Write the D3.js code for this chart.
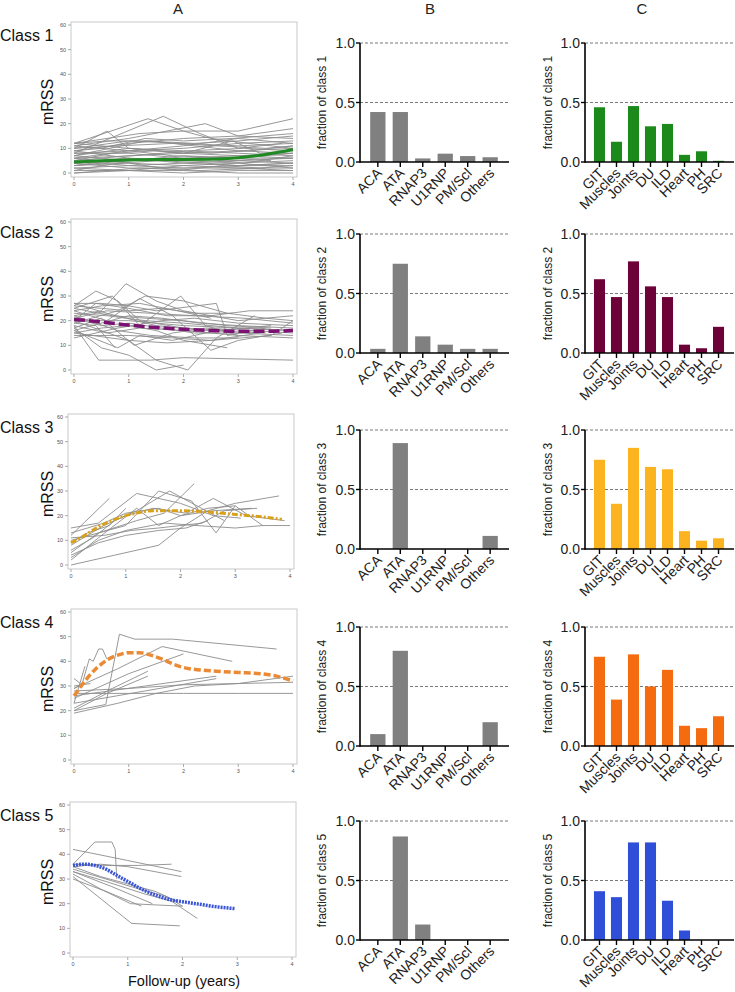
<!DOCTYPE html>
<html><head><meta charset="utf-8">
<script src="https://cdn.jsdelivr.net/npm/d3@7"></script>
<style>body{margin:0;background:#fff}svg{display:block;font-family:"Liberation Sans",Arial,sans-serif}</style>
</head><body><svg id="c" width="735" height="992"></svg>
<script>
// ---------------- DATA ----------------
const classNames = ["Class 1","Class 2","Class 3","Class 4","Class 5"];
const autoCats = ["ACA","ATA","RNAP3","U1RNP","PM/Scl","Others"];
const organCats = ["GIT","Muscles","Joints","DU","ILD","Heart","PH","SRC"];
const yearTicks = [0,1,2,3,4];
const mrssTicks = [0,10,20,30,40,50,60];
const fracTicks = [0,0.5,1];

const auto1 = [0.42,0.42,0.03,0.07,0.05,0.04];
const auto2 = [0.035,0.75,0.14,0.07,0.035,0.035];
const auto3 = [0,0.89,0,0,0,0.11];
const auto4 = [0.10,0.80,0,0,0,0.20];
const auto5 = [0,0.87,0.13,0,0,0];

const organ1 = [0.46,0.17,0.47,0.30,0.32,0.06,0.09,0.01];
const organ2 = [0.62,0.47,0.77,0.56,0.47,0.07,0.04,0.22];
const organ3 = [0.75,0.38,0.85,0.69,0.67,0.15,0.07,0.09];
const organ4 = [0.75,0.39,0.77,0.50,0.64,0.17,0.15,0.25];
const organ5 = [0.41,0.36,0.82,0.82,0.33,0.08,0,0];

const trend1 = [[0,4.5],[0.5,5],[1,5.3],[1.5,5.5],[2,5.5],[2.5,5.6],[3,6.2],[3.5,7.5],[4,9.5]];
const trend2 = [[0,20.5],[0.5,19.5],[1,18.2],[1.5,17.2],[2,16.5],[2.5,16],[3,15.7],[3.5,15.7],[4,16]];
const trend3 = [[0,9],[0.25,12],[0.5,15.5],[0.75,18],[1,20],[1.25,21.3],[1.5,22],[2,22],[2.5,21.5],[3,20.5],[3.5,19.5],[3.85,18.5]];
const trend4 = [[0,26],[0.1,29],[0.2,32],[0.4,37],[0.6,40.5],[0.8,42.5],[1,43.5],[1.2,43.5],[1.4,42.5],[1.6,41],[1.8,39],[2,37.5],[2.3,36.5],[2.6,36],[3,35.5],[3.4,35],[3.7,34],[4,32]];
const trend5 = [[0,35.5],[0.2,36],[0.4,35.5],[0.6,34],[0.8,31.5],[1,29],[1.2,26.5],[1.5,23.5],[1.8,21.5],[2,20.8],[2.3,19.8],[2.6,18.8],[2.95,18]];

const traj1 = [
[[0,12],[1.35,22],[2,17],[2.5,14],[3.2,12],[4,10]],
[[0,10],[0.6,17],[1,10],[2,8],[3,7],[4,6]],
[[0,8],[1.63,23],[2.3,16],[3,10],[3.8,12]],
[[0,11],[1,14],[2.4,20],[3,15],[4,14]],
[[0,12],[1.2,16],[2,17],[3,17],[4,22]],
[[0,9],[1,12],[2,14],[3,15],[4,18]],
[[0,7],[1.3,13],[2.2,12],[3,13],[4,15]],
[[0,10],[0.8,11],[1.8,12],[2.6,11],[3.5,10],[4,11]],
[[0,6],[1,9],[2,10],[3,12],[4,13]],
[[0,5],[1,7],[2,8],[2.9,13],[3.4,8],[4,9]],
[[0,12],[1,10],[2,9],[3,8],[4,7]],
[[0,3],[1,5],[2,7],[3,6],[4,8]],
[[0,4],[0.9,6],[2,5],[3,4],[4,5]],
[[0,2],[1,3],[2,2],[3,3],[4,3]],
[[0,1],[1,1],[2,0],[3,1],[4,1]],
[[0,0],[1.2,2],[2.3,1],[3.5,2]],
[[0,6],[1,4],[2,3],[3,2],[4,2]],
[[0,9],[1,6],[2,4],[3,3],[4,4]],
[[0,8],[1,8],[2,6],[3,5],[4,6]],
[[0,11],[1,9],[1.8,7],[2.8,6],[3.6,5]],
[[0,5],[0.7,8],[1.5,9],[2.5,8],[3.2,9],[4,11]],
[[0,3],[1,4],[1.9,1],[2.7,3],[3.4,2],[4,3]],
[[0,7],[1,5],[2,6],[3,7],[4,8]],
[[0,4],[1,2],[2,2],[3,2],[4,1]],
[[0,10],[1,13],[2,12],[3,11],[4,12]],
[[0,1],[0.8,4],[1.6,5],[2.4,4],[3,3],[4,4]],
[[0,2],[1,1],[2,3],[3,4],[4,2]],
[[0,9],[0.5,10],[1.3,14],[2,13],[2.9,14],[4,16]],
[[0,6],[1.1,7],[2.1,9],[3.1,10],[4,9]],
[[0,12],[0.6,13],[1.4,13],[2.2,11],[3,9],[4,8]],
[[0,3],[1,6],[2,5],[3,6],[4,6]],
[[0,8],[1,9],[2,11],[3,14],[4,12]],
[[0,5],[1,3],[2,4],[3,5],[4,4]],
[[0,7],[1,10],[2,8],[3,9],[4,10]],
[[0,0],[1,1],[2,1],[3,0],[4,0]],
[[0,4],[1,5],[2.3,6],[3.1,4],[4,7]]
];
const traj2 = [
[[0,26],[0.4,32],[0.8,28],[1.2,20],[2,17],[2.8,16]],
[[0,22],[0.5,24],[0.95,35],[1.5,28],[2,24],[3,20],[4,22]],
[[0,18],[0.45,4],[1,4],[1.4,4],[2,5],[3,4.5],[4,4]],
[[0,17],[0.5,9],[1,6],[1.5,0],[2,2]],
[[0,20],[1,12],[1.5,4],[2.08,0],[2.6,13],[3.3,22]],
[[0,25],[0.7,30],[1.2,18],[1.95,30],[2.4,18],[3,14]],
[[0,27],[0.5,27],[1,26],[1.5,24],[2.6,27],[2.8,14],[3.5,17]],
[[0,24],[0.6,20],[1.2,29],[1.8,22],[2.5,8],[3,12],[3.8,15]],
[[0,19],[0.8,24],[1.3,30],[2,28],[2.8,23],[3.5,21],[4,20]],
[[0,16],[0.8,9],[1.2,14],[1.8,12],[2.6,16],[3.6,18]],
[[0,21],[0.5,18],[1,19],[1.6,17],[2.2,15],[3,15],[4,14]],
[[0,23],[0.6,22],[1.3,20],[2,19],[3,17],[4,16]],
[[0,15],[0.5,17],[1,18],[1.5,16],[2,12],[2.8,9]],
[[0,14],[1,14],[1.8,13],[2.5,12],[3.4,15]],
[[0,26],[0.5,25],[1,24],[1.6,25],[2.2,23],[2.9,23]],
[[0,20],[0.4,27],[1,25],[1.7,22],[2.5,22],[3.2,24],[4,24]],
[[0,18],[0.6,15],[1.2,17],[2,16],[3,14],[4,13]],
[[0,22],[0.8,16],[1.4,14],[2.2,13],[3,13]],
[[0,17],[0.5,21],[1.1,10],[1.8,15],[2.4,17],[3.2,16],[4,15]],
[[0,25],[0.7,22],[1.3,21],[2,20],[2.8,18],[3.6,17]],
[[0,16],[0.5,19],[1,22],[1.6,21],[2.3,19],[3,18],[4,17]],
[[0,24],[0.5,26],[1.2,27],[1.9,24],[2.5,21]],
[[0,19],[0.4,18],[0.75,9]],
[[0,15],[1,12],[1.7,11],[2.5,12],[3.6,14],[4,20]],
[[0,21],[0.6,24],[1.4,23],[2.2,22],[3.1,21],[4,19]],
[[0,27],[0.6,23],[1.5,18],[2.4,16],[3.5,15]],
[[0,13],[0.8,17],[1.6,20],[2.2,21],[3,19],[4,18]],
[[0,20],[1,20],[2,18],[3,17],[4,16]]
];
const traj3 = [
[[0,0],[0.8,4],[1.6,8],[2,15],[2.5,22],[3,25],[3.8,28]],
[[0,12],[0.7,27]],
[[0,2],[0.5,11],[1.2,23],[1.6,16],[2,20],[2.5,23],[3,24]],
[[0,5],[0.5,13],[1.2,18],[1.7,21],[2.25,33]],
[[0,15],[0.5,17],[1.2,29],[2,25],[2.6,20],[3.1,19]],
[[0,10],[0.5,13],[1,16],[1.6,30],[2.2,26],[2.65,13],[3,24],[3.5,16],[4,16]],
[[0,8],[0.6,16],[1,20],[1.5,23],[2.1,21],[2.6,27],[3.2,20],[3.9,18]],
[[0,3],[0.5,10],[1,14],[1.7,17],[2.3,16],[3,15],[3.5,16]],
[[0,6],[0.4,11],[0.8,18],[1.2,22],[1.8,30],[2.3,24],[2.8,18]],
[[0,13],[0.3,15],[0.6,17],[1,21],[1.6,23],[2,20],[2.6,22],[3.3,23]],
[[0,4],[0.5,9],[1,12],[1.6,14],[2.1,15],[2.5,18]],
[[0,9],[0.3,13],[0.7,16],[1,23]],
[[0,11],[0.6,12],[1.1,14],[1.6,15],[2.4,17],[2.8,22],[3.4,23]]
];
const traj4 = [
[[0,20],[0.58,22.5],[0.83,51],[1.11,49],[1.8,49],[3.7,45]],
[[0,29],[0.15,31],[0.28,41],[0.35,40],[0.45,45],[0.52,45],[0.6,41]],
[[0,23],[0.2,38]],
[[0,29],[0.8,37],[1.61,46],[2.89,40]],
[[0,25],[1,35],[2,43]],
[[0,21],[0.7,29],[1.35,36]],
[[0,20],[0.6,27],[1.35,34]],
[[0,26],[1.3,30],[2.6,34]],
[[0,23],[1.3,28],[2.6,33]],
[[0,27],[1,27],[2,27],[3,27],[4,27]],
[[0,28],[1,29],[2,30.5],[3,31],[4,31.5]],
[[0,19],[0.8,23],[1.5,27],[2.2,30],[3,31],[4,34]],
[[0,33],[0.12,31]],
[[0,30],[0.3,31]]
];
const traj5 = [
[[0,36],[0.4,45],[0.71,45],[0.77,42],[0.8,30]],
[[0,42],[1,37.5],[1.98,33]],
[[0,36],[0.6,35.5],[1.2,35.5],[1.8,36]],
[[0,35],[0.5,36],[1,35],[1.98,31]],
[[0,33],[0.6,29],[1.3,24],[1.8,21],[2.27,14]],
[[0,31],[1.07,12],[1.95,11]],
[[0,32],[0.5,26],[1.05,20],[1.5,19.5],[2.0,19]],
[[0,30],[0.6,25],[1.25,19]],
[[0,33],[0.7,27],[1.45,20]],
[[0,34],[0.6,30],[1.2,26],[1.7,23],[2,19]],
[[0,35],[0.5,31],[1,28],[1.5,25],[1.9,21]]
];

const autoFrac = [auto1,auto2,auto3,auto4,auto5];
const organFrac = [organ1,organ2,organ3,organ4,organ5];
const trends = [trend1,trend2,trend3,trend4,trend5];
const trajs = [traj1,traj2,traj3,traj4,traj5];

// ---------------- STYLE / LAYOUT ----------------
const organColors = ["#1b8a1b","#6d0238","#fbb41f","#f56b0f","#2f4fd8"];
const trendStyles = [
  {c:"#1f8a22", w:3, d:null},
  {c:"#7b1273", w:3.5, d:"11,4"},
  {c:"#d9a11a", w:3, d:"6,2,2,2"},
  {c:"#ea8a35", w:3.5, d:"7,3"},
  {c:"#3a56d6", w:3.5, d:"2,1"}
];
const aTop = [22, 219, 414, 609, 802];
const aDx = [0, 0, -3, 0, -1];
const bcTop = [43, 234, 430, 627, 821];

const svg = d3.select("#c");

[["A",178],["B",430],["C",642]].forEach(([t,x])=>{
  svg.append("text").attr("x",x).attr("y",14).attr("text-anchor","middle")
    .attr("font-size",15).attr("fill","#222").text(t);
});

classNames.forEach((name,i)=>{
  // ---------- Panel A ----------
  const top = aTop[i], dx = aDx[i];
  const fx0 = 71+dx, fx1 = 297+dx, fh = 155;
  const x = d3.scaleLinear().domain([0,4]).range([74+dx, 293+dx]);
  const y = d3.scaleLinear().domain([0,60]).range([top+151, top+3]);
  const gA = svg.append("g");
  gA.append("rect").attr("x",fx0).attr("y",top).attr("width",fx1-fx0).attr("height",fh)
    .attr("fill","none").attr("stroke","#c9c9c9").attr("stroke-width",1);
  mrssTicks.forEach(v=>{
    gA.append("line").attr("x1",fx0-3).attr("x2",fx0).attr("y1",y(v)).attr("y2",y(v)).attr("stroke","#aaa");
    gA.append("text").attr("x",fx0-5).attr("y",y(v)+2).attr("text-anchor","end")
      .attr("font-size",5.5).attr("fill","#555").text(v);
  });
  yearTicks.forEach(v=>{
    gA.append("line").attr("x1",x(v)).attr("x2",x(v)).attr("y1",top+fh).attr("y2",top+fh+3).attr("stroke","#aaa");
    gA.append("text").attr("x",x(v)).attr("y",top+fh+9).attr("text-anchor","middle")
      .attr("font-size",5.5).attr("fill","#555").text(v);
  });
  const line = d3.line().x(d=>x(d[0])).y(d=>y(d[1]));
  gA.selectAll("path.traj").data(trajs[i]).join("path").attr("class","traj")
    .attr("d",line).attr("fill","none").attr("stroke","#8c8c8c").attr("stroke-width",0.9);
  const st = trendStyles[i];
  const smooth = d3.line().x(d=>x(d[0])).y(d=>y(d[1])).curve(d3.curveMonotoneX);
  const tp = gA.append("path").attr("d",smooth(trends[i])).attr("fill","none")
    .attr("stroke",st.c).attr("stroke-width",st.w);
  if(st.d) tp.attr("stroke-dasharray",st.d);
  svg.append("text").attr("x",0).attr("y",top+19).attr("font-size",16).attr("fill","#111").text(name);
  svg.append("text").attr("transform",`translate(53,${top+80}) rotate(-90)`).attr("text-anchor","middle")
    .attr("font-size",16).attr("fill","#111").text("mRSS");

  // ---------- Panels B and C ----------
  const y1 = bcTop[i], y0 = y1+119;
  const ys = d3.scaleLinear().domain([0,1]).range([y0,y1]);
  const panels = [
    {axX:360, cats:autoCats, vals:autoFrac[i], color:"#808080", pad:0.32, labX:322},
    {axX:585, cats:organCats, vals:organFrac[i], color:organColors[i], pad:0.35, labX:548}
  ];
  panels.forEach(p=>{
    const g = svg.append("g");
    const xb = d3.scaleBand().domain(p.cats).range([p.axX+3, p.axX+145]).padding(p.pad);
    const xEnd = p.axX+149;
    [0.5,1].forEach(v=>{
      g.append("line").attr("x1",p.axX).attr("x2",xEnd).attr("y1",ys(v)).attr("y2",ys(v))
        .attr("stroke","#555").attr("stroke-width",0.8).attr("stroke-dasharray","3,2");
    });
    g.selectAll("rect.bar").data(p.cats.map((c,k)=>({c,v:p.vals[k]}))).join("rect").attr("class","bar")
      .attr("x",d=>xb(d.c)).attr("width",xb.bandwidth())
      .attr("y",d=>ys(d.v)).attr("height",d=>ys(0)-ys(d.v)).attr("fill",p.color);
    g.append("line").attr("x1",p.axX).attr("x2",p.axX).attr("y1",y1).attr("y2",y0+0.75)
      .attr("stroke","#000").attr("stroke-width",1.6);
    g.append("line").attr("x1",p.axX).attr("x2",xEnd).attr("y1",y0).attr("y2",y0)
      .attr("stroke","#000").attr("stroke-width",1.6);
    fracTicks.forEach(v=>{
      g.append("line").attr("x1",p.axX-4).attr("x2",p.axX).attr("y1",ys(v)).attr("y2",ys(v))
        .attr("stroke","#000").attr("stroke-width",1.4);
      g.append("text").attr("x",p.axX-5).attr("y",ys(v)+5).attr("text-anchor","end")
        .attr("font-size",14).attr("fill","#222").text(v.toFixed(1));
    });
    p.cats.forEach(c=>{
      const cx = xb(c)+xb.bandwidth()/2;
      g.append("line").attr("x1",cx).attr("x2",cx).attr("y1",y0).attr("y2",y0+5)
        .attr("stroke","#000").attr("stroke-width",1.4);
      g.append("text").attr("transform",`translate(${cx+5},${y0+12}) rotate(-45)`)
        .attr("text-anchor","end").attr("font-size",14).attr("fill","#222").text(c);
    });
    g.append("text").attr("transform",`translate(${p.labX+4},${(y0+y1)/2}) rotate(-90)`)
      .attr("text-anchor","middle").attr("font-size",12).attr("fill","#222").text("fraction of "+name.toLowerCase());
  });
});

svg.append("text").attr("x",184).attr("y",986).attr("text-anchor","middle")
  .attr("font-size",14.5).attr("fill","#111").text("Follow-up (years)");
</script></body></html>
